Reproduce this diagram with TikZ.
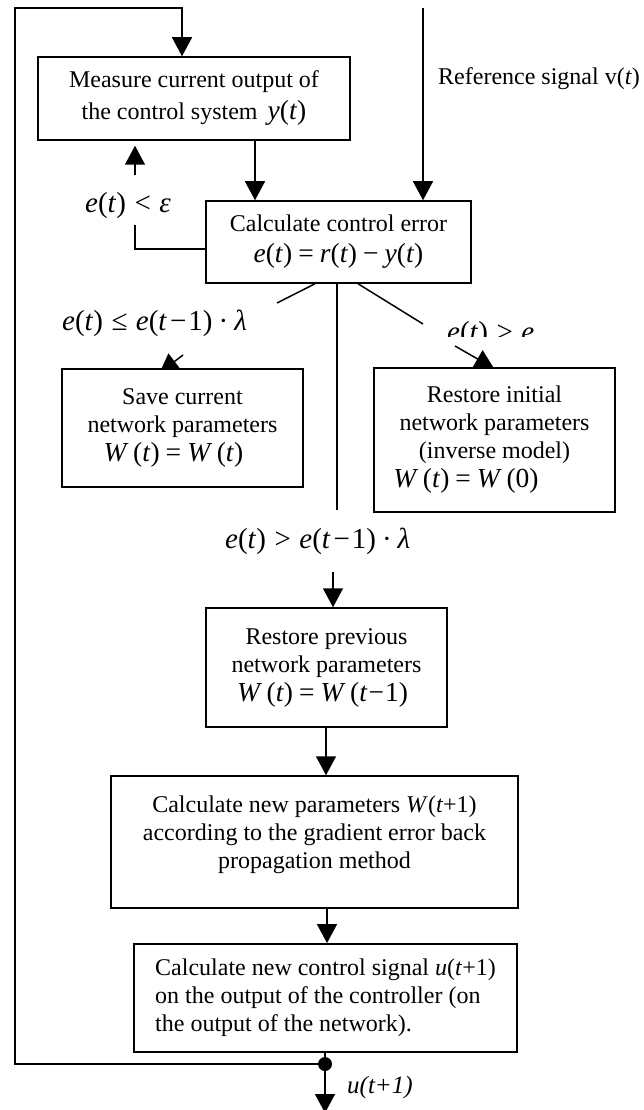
\documentclass[tikz,border=0pt]{standalone}
\usepackage{fontspec}
\setmainfont{Liberation Serif}
\usetikzlibrary{arrows.meta}
\pgfdeclarelayer{back}
\pgfsetlayers{back,main}
\newcommand{\iv}[1]{\textit{#1}}
\newcommand{\boxfnt}{\fontsize{24}{28}\selectfont}
\newcommand{\eqfnt}{\fontsize{27.5}{30}\selectfont}
\newcommand{\condfnt}{\fontsize{29}{32}\selectfont}
\newcommand{\rel}[1]{\hspace{6pt}#1\hspace{6pt}}
\newcommand{\crel}[1]{\hspace{8.5pt}#1\hspace{8.5pt}}
\tikzset{
  box/.style={draw, line width=1.5pt, fill=white, inner sep=0pt, align=center, font=\boxfnt},
  conn/.style={line width=1.5pt},
  arr/.style={conn, -{Triangle[length=19pt,width=20pt]}},
  cond/.style={inner sep=0pt, anchor=base west, font=\condfnt},
  note/.style={inner sep=0pt, anchor=base west, font=\boxfnt},
}
\begin{document}
\begin{tikzpicture}[x=1pt,y=-1pt]
\useasboundingbox (0,0) rectangle (643,1110);

% process boxes
\node[box, minimum width=312pt, minimum height=83pt] (meas) at (194,98.5)
  {Measure current output of\\[4pt]the control system \,{\eqfnt\iv{y}(\iv{t})}};
\node[box, minimum width=265pt, minimum height=82pt] (calc) at (338.5,242)
  {Calculate control error\\[3pt]{\eqfnt\iv{e}(\iv{t})\rel{=}\iv{r}(\iv{t})\rel{−}\iv{y}(\iv{t})}};
\node[box, minimum width=241pt, minimum height=118pt] (save) at (182.5,428)
  {Save current\\network parameters\\[1pt]\hspace*{-18pt}{\eqfnt\iv{W}\,(\iv{t})\rel{=}\iv{W}\,(\iv{t})}};
\node[box, minimum width=241pt, minimum height=144pt] (init) at (494.5,440)
  {Restore initial\\network parameters\\(inverse model)\\[1pt]\hspace*{-57pt}{\eqfnt\iv{W}\,(\iv{t})\rel{=}\iv{W}\,(0)}};
\node[box, minimum width=241pt, minimum height=119pt] (prev) at (326.5,667.5)
  {Restore previous\\network parameters\\[1pt]\hspace*{-8pt}{\eqfnt\iv{W}\,(\iv{t})\rel{=}\iv{W}\,(\iv{t}\hspace{1pt}−\hspace{1pt}1)}};
\node[box, minimum width=407pt, minimum height=132pt] (params) at (314.5,842)
  {Calculate new parameters \iv{W}(\iv{t}+1)\\according to the gradient error back\\propagation method\\[-8pt]\mbox{}};
\node[box, line width=1.8pt, minimum width=383pt, minimum height=108pt, align=left] (ctrl) at (325.5,998)
  {Calculate new control signal \iv{u}(\iv{t}+1)\\on the output of the controller (on\\the output of the network).};
\node[circle, fill=black, minimum size=14pt, inner sep=0pt] (dot) at (325,1064) {};

% condition and signal labels
\node[note] (reflbl) at (438,85) {Reference signal v(\iv{t})};
\node[cond] (lteps) at (85,212) {\iv{e}(\iv{t})\crel{<}\iv{ε}};
\node[cond] (lelbl) at (62,330) {\iv{e}(\iv{t})\crel{≤}\iv{e}(\iv{t}\hspace{3pt}−\hspace{2pt}1)\hspace{6pt}·\hspace{6pt}\iv{λ}};
\node[cond] (gtlbl) at (225,548) {\iv{e}(\iv{t})\crel{>}\iv{e}(\iv{t}\hspace{3pt}−\hspace{2pt}1)\hspace{6pt}·\hspace{6pt}\iv{λ}};
\begin{scope}
  \clip (430,300) rectangle (600,336);
  \node[cond] (gtelbl) at (447,341) {\iv{e}(\iv{t})\crel{>}\iv{e}};
\end{scope}
\node[note, font=\fontsize{25}{28}\selectfont\itshape] (ulbl) at (347,1093) {u(t+1)};

% free ends of the connectors
\coordinate (looptop) at (182,8);
\coordinate (loopleft) at (15,8);
\coordinate (mc) at (255,0);
\coordinate (reftop) at (423,8);
\coordinate (ltcorner) at (135,249);
\coordinate (ltend) at (135,225);
\coordinate (ltstart) at (135,175);
\coordinate (lecol) at (315,0);
\coordinate (leend) at (277,303);
\coordinate (lestart) at (183,355);
\coordinate (letip) at (159.5,373);
\coordinate (midend) at (337,510);
\coordinate (midstart) at (333,572);
\coordinate (gtcol) at (358,0);
\coordinate (gtend) at (423,324);
\coordinate (gtstart) at (455,346);
\coordinate (gttip) at (494,368.4);
\coordinate (prevcol) at (326,0);
\coordinate (parcol) at (327,0);
\coordinate (outtip) at (325,1113);

\begin{pgfonlayer}{back}
  % feedback loop back to the measurement
  \draw[arr] (dot.center) -| (loopleft) -- (looptop) -- (looptop |- meas.north);
  \draw[arr] (meas.south -| mc) -- (calc.north -| mc);
  \draw[arr] (reftop) -- (reftop |- calc.north);
  % e(t) < epsilon
  \draw[conn] (ltcorner -| calc.west) -- (ltcorner) -- (ltend);
  \draw[arr, shorten >=5pt] (ltstart) -- (ltstart |- meas.south);
  % e(t) <= e(t-1) lambda
  \draw[conn] (calc.south -| lecol) -- (leend);
  \draw[arr] (lestart) -- (letip);
  % e(t) > e(t-1) lambda
  \draw[conn] (calc.south -| midend) -- (midend);
  \draw[arr] (midstart) -- (midstart |- prev.north);
  % e(t) > e
  \draw[conn] (calc.south -| gtcol) -- (gtend);
  \draw[arr] (gtstart) -- (gttip);
  % main chain
  \draw[arr] (prev.south -| prevcol) -- (params.north -| prevcol);
  \draw[arr] (params.south -| parcol) -- (ctrl.north -| parcol);
  \draw[conn] (ctrl.south -| dot) -- (dot);
  \draw[arr] (dot.center) -- (outtip);
\end{pgfonlayer}
\end{tikzpicture}
\end{document}
